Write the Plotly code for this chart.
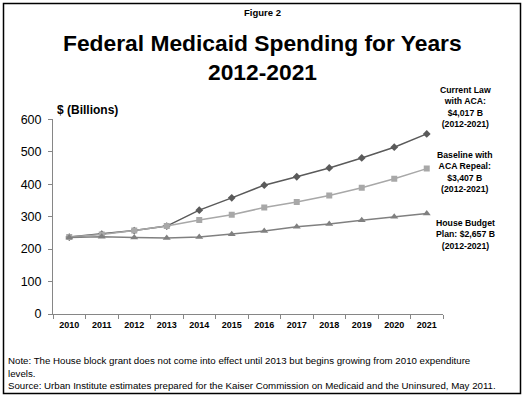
import plotly.graph_objects as go

years = [str(y) for y in range(2010, 2022)]
current_law = [237, 246, 257, 271, 320, 358, 397, 423, 450, 481, 514, 555]
baseline = [237, 245, 257, 271, 290, 306, 328, 345, 365, 389, 417, 448]
house_plan = [236, 238, 236, 234, 237, 246, 256, 269, 277, 289, 300, 310]
y_ticks = [0, 100, 200, 300, 400, 500, 600]

W, H = 524, 398
def px(x):
    return x / W
def py(y):
    return 1 - y / H

FONT = "Arial, Liberation Sans, sans-serif"

fig = go.Figure()
fig.add_trace(go.Scatter(x=years, y=current_law, mode="lines+markers",
                         line=dict(color="#5a5a5a", width=1.5),
                         marker=dict(symbol="diamond", size=6, color="#5a5a5a"),
                         name="Current Law with ACA"))
fig.add_trace(go.Scatter(x=years, y=baseline, mode="lines+markers",
                         line=dict(color="#a8a8a8", width=1.5),
                         marker=dict(symbol="square", size=6, color="#a8a8a8"),
                         name="Baseline with ACA Repeal"))
fig.add_trace(go.Scatter(x=years, y=house_plan, mode="lines+markers",
                         line=dict(color="#808080", width=1.5),
                         marker=dict(symbol="triangle-up", size=7, color="#808080"),
                         name="House Budget Plan"))

fig.update_layout(
    width=W, height=H, autosize=False,
    margin=dict(l=0, r=0, t=0, b=0, pad=0),
    paper_bgcolor="white", plot_bgcolor="white",
    showlegend=False,
    font=dict(family=FONT, color="black"),
    xaxis=dict(type="category", domain=[px(53), px(443)], range=[-0.5, 11.5],
               automargin=False, fixedrange=True,
               showgrid=False, zeroline=False, showline=True, linecolor="#868686", linewidth=1,
               ticks="outside", tickson="boundaries", ticklen=4, tickcolor="#868686",
               ticklabelstandoff=2,
               tickfont=dict(size=9, family=FONT, color="black", weight="bold")),
    yaxis=dict(domain=[py(314), py(119.3)], range=[0, 600], tickvals=y_ticks,
               automargin=False, fixedrange=True,
               showgrid=False, zeroline=False, showline=True, linecolor="#868686", linewidth=1,
               ticks="outside", ticklen=4, tickcolor="#868686",
               ticklabelstandoff=4,
               tickfont=dict(size=12.5, family=FONT, color="black")),
)

def ann(x, y, text, size, bold=False, xanchor="center", align="center"):
    fig.add_annotation(x=px(x), y=py(y), xref="paper", yref="paper", text=text,
                       showarrow=False, xanchor=xanchor, yanchor="middle", align=align,
                       font=dict(size=size, family=FONT, color="black",
                                 weight="bold" if bold else "normal"))

ann(262, 12, "Figure 2", 9.5, bold=True)
ann(262, 43, "Federal Medicaid Spending for Years", 22.8, bold=True)
ann(262, 72, "2012-2021", 22.8, bold=True)
ann(55, 110, "$ (Billions)", 12, bold=True, xanchor="left")
ann(465, 107, "Current Law<br>with ACA:<br>$4,017 B<br>(2012-2021)", 8.7, bold=True)
ann(465, 172, "Baseline with<br>ACA Repeal:<br>$3,407 B<br>(2012-2021)", 8.7, bold=True)
ann(465, 234, "House Budget<br>Plan: $2,657 B<br>(2012-2021)", 8.7, bold=True)
ann(6, 373, "Note: The House block grant does not come into effect until 2013 but begins growing from 2010 expenditure<br>levels.<br>Source: Urban Institute estimates prepared for the Kaiser Commission on Medicaid and the Uninsured, May 2011.",
    9.7, xanchor="left", align="left")

fig.add_shape(type="rect", xref="paper", yref="paper",
              x0=px(3.5), x1=px(520.5), y0=py(393.5), y1=py(3.5),
              line=dict(color="black", width=1.5), fillcolor="rgba(0,0,0,0)")

fig.write_html("out.html", config={"displayModeBar": False},
               post_script="document.body.style.margin='0';document.body.style.overflow='hidden';")
